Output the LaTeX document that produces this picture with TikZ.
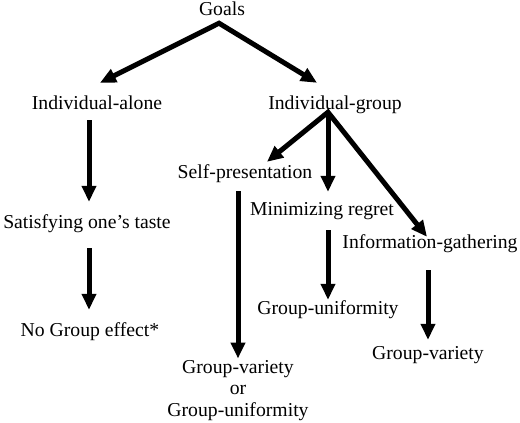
\documentclass[tikz,border=0pt]{standalone}
\usepackage{fontspec}
\setmainfont{Liberation Serif}
\usetikzlibrary{arrows.meta}
\begin{document}
\begin{tikzpicture}[x=1pt, y=-1pt, >={Triangle[length=16pt,width=14pt]},
  lbl/.style={anchor=base, inner sep=0pt, text height=14pt, text depth=4pt,
    font=\fontsize{19.7}{21.5}\selectfont},
  arr/.style={line width=5pt}]
\useasboundingbox (0,0) rectangle (520,423);
% labels
\node[lbl] (goals) at (222,16) {Goals};
\node[lbl] (indalone) at (97,109.5) {Individual-alone};
\node[lbl] (indgroup) at (335,109) {Individual-group};
\node[lbl] (satisfy) at (87,228) {Satisfying one's taste};
\node[lbl] (nogroup) at (90,336) {No Group effect*};
\node[lbl] (selfpres) at (245,178) {Self-presentation};
\node[lbl] (minreg) at (322,215) {Minimizing regret};
\node[lbl] (infogath) at (430,248) {Information-gathering};
\node[lbl] (unifmid) at (328,314) {Group-uniformity};
\node[lbl] (varright) at (428,359) {Group-variety};
\node[lbl, anchor=north, text height=, text depth=, align=center] (varor) at (238,360)
  {Group-variety\\or\\Group-uniformity};
% arrows
\draw[arr, <->] ([xshift=3pt, yshift=12.5pt]indalone.north)
  -- ([xshift=-3pt, yshift=-3pt]goals.south)
  -- ([xshift=-18pt, yshift=12pt]indgroup.north);
\coordinate (igsplit) at ([xshift=-7pt, yshift=1pt]indgroup.south);
\draw[arr, <->] ([xshift=22pt, yshift=2pt]selfpres.north)
  -- (igsplit) -- ([xshift=-3pt, yshift=-3pt]infogath.north);
\draw[arr, ->] (igsplit) -- ([xshift=6pt, yshift=9pt]minreg.north);
\draw[arr, ->] ([xshift=-8pt, yshift=-6.5pt]indalone.south) -- ([xshift=2pt, yshift=12pt]satisfy.north);
\draw[arr, ->] ([xshift=2pt, yshift=-16pt]satisfy.south) -- ([xshift=-1pt, yshift=12pt]nogroup.north);
\draw[arr, ->] ([xshift=-7pt, yshift=-9pt]selfpres.south) -- ([yshift=1.5pt]varor.north);
\draw[arr, ->] ([xshift=6pt, yshift=-11pt]minreg.south) -- (unifmid.north);
\draw[arr, ->] ([xshift=-2pt, yshift=-18pt]infogath.south) -- ([yshift=5pt]varright.north);
\end{tikzpicture}
\end{document}
